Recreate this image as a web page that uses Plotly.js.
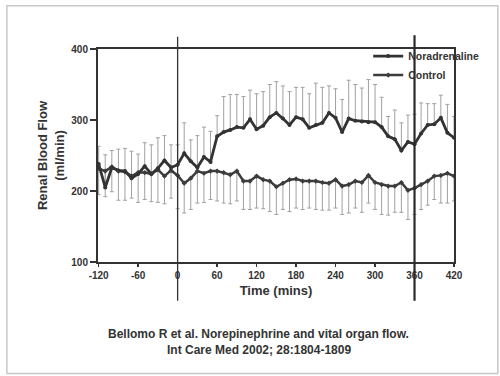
<!DOCTYPE html>
<html>
<head>
<meta charset="utf-8">
<script src="https://cdn.plot.ly/plotly-3.0.1.min.js"></script>
<style>
html,body{margin:0;padding:0;background:#fff;}
#chart{width:500px;height:376px;}
</style>
</head>
<body>
<div id="chart"></div>
<script>
// Time points (minutes)
var timeMins = [-120,-110,-100,-90,-80,-70,-60,-50,-40,-30,-20,-10,0,10,20,30,40,50,
  60,70,80,90,100,110,120,130,140,150,160,170,180,190,200,210,220,230,240,250,260,270,
  280,290,300,310,320,330,340,350,360,370,380,390,400,410,420];

// Noradrenaline mean renal blood flow (ml/min)
var noradrenaline = [238,205,233,229,228,218,224,235,224,232,243,233,237,253,242,233,248,241,
  277,283,286,290,289,301,287,292,304,310,302,293,304,301,289,293,296,310,303,283,302,299,
  298,297,297,290,277,273,257,269,266,281,293,294,303,282,275];
// Noradrenaline upper error-bar ends
var noradrenalineTop = [263,251,257,259,260,256,252,268,265,275,278,265,265,296,272,278,290,284,
  306,333,336,336,333,342,337,340,350,354,348,340,346,346,337,352,346,348,344,329,356,350,
  345,357,350,332,305,314,296,307,308,324,323,323,335,322,305];

// Control mean renal blood flow (ml/min)
var control = [232,228,234,228,227,221,226,226,224,230,221,229,222,211,218,228,225,228,
  228,226,223,228,214,214,221,216,214,206,211,216,217,214,214,214,212,211,216,207,209,214,
  212,222,212,209,207,207,212,201,204,209,214,221,222,225,221];
// Control lower error-bar ends
var controlBottom = [195,192,199,187,187,190,184,188,185,184,182,190,175,169,174,183,184,188,
  186,183,182,186,174,174,176,175,171,167,174,171,176,174,176,174,173,173,176,167,169,176,
  170,183,174,167,166,170,170,160,167,174,180,188,183,183,186];

var xTicks = [-120,-60,0,60,120,180,240,300,360,420];
var yTicks = [100,200,300,400];

var noradErr = noradrenaline.map(function(v,i){return noradrenalineTop[i]-v;});
var ctlErr = control.map(function(v,i){return v-controlBottom[i];});
var zeros = timeMins.map(function(){return 0;});

var FONT = 'Liberation Sans, Arial, sans-serif';
var TXT = '#333333';

var traces = [
  {x: timeMins, y: noradrenaline, mode:'markers', marker:{size:1, color:'rgba(0,0,0,0)'},
   showlegend:false, hoverinfo:'skip',
   error_y:{type:'data', symmetric:false, array:noradErr, arrayminus:zeros,
            color:'#a0a0a0', thickness:1, width:2}},
  {x: timeMins, y: control, mode:'markers', marker:{size:1, color:'rgba(0,0,0,0)'},
   showlegend:false, hoverinfo:'skip',
   error_y:{type:'data', symmetric:false, array:zeros, arrayminus:ctlErr,
            color:'#a0a0a0', thickness:1, width:2}},
  {x: timeMins, y: control, name:'Control', mode:'lines+markers',
   line:{color:'#3c3c3c', width:2.5}, marker:{symbol:'diamond', size:4, color:'#3c3c3c'}},
  {x: timeMins, y: noradrenaline, name:'Noradrenaline', mode:'lines+markers',
   line:{color:'#333333', width:2.8}, marker:{symbol:'circle', size:4, color:'#333333'}}
];

var layout = {
  width:500, height:376,
  margin:{l:98, r:46, t:49, b:114},
  paper_bgcolor:'#ffffff', plot_bgcolor:'#ffffff',
  font:{family:FONT, color:TXT},
  showlegend:true,
  legend:{x:0.759, y:1.035, xanchor:'left', yanchor:'top', bgcolor:'rgba(0,0,0,0)',
          traceorder:'reversed', itemwidth:30, tracegroupgap:0,
          font:{family:FONT, size:10.5, weight:'bold', color:TXT}},
  xaxis:{range:[-121,420], tickvals:xTicks, ticktext:xTicks.map(String),
         showgrid:false, zeroline:false, showline:true, linecolor:'#333', linewidth:2,
         mirror:true, ticks:'outside', ticklen:3, tickwidth:1.5, tickcolor:'#333',
         tickfont:{family:FONT, size:10, weight:'bold', color:TXT},
         title:{text:'Time (mins)', font:{family:FONT, size:13, weight:'bold', color:TXT}, standoff:6}},
  yaxis:{range:[100,400], tickvals:yTicks, ticktext:yTicks.map(String),
         showgrid:false, zeroline:false, showline:true, linecolor:'#333', linewidth:2,
         mirror:true, ticks:'outside', ticklen:6, tickwidth:1.5, tickcolor:'#333',
         tickfont:{family:FONT, size:10, weight:'bold', color:TXT},
         title:{text:'Renal Blood Flow<br>(ml/min)', font:{family:FONT, size:13, weight:'bold', color:TXT}, standoff:4}},
  shapes:[
    {type:'line', xref:'x', yref:'paper', x0:0, x1:0, y0:-0.182, y1:1.058,
     line:{color:'#333', width:1.3}},
    {type:'line', xref:'x', yref:'paper', x0:360, x1:360, y0:-0.182, y1:1.065,
     line:{color:'#2a2a2a', width:2.2}},
    {type:'rect', xref:'paper', yref:'paper', x0:-0.256, x1:1.123, y0:-0.524, y1:1.203,
     line:{color:'#c8c8c8', width:1.5}}
  ],
  annotations:[
    {xref:'paper', yref:'paper', x:0.452, y:-0.336, xanchor:'center', yanchor:'middle', showarrow:false,
     text:'Bellomo R et al. Norepinephrine and vital organ flow.',
     font:{family:FONT, size:12, weight:'bold', color:TXT}},
    {xref:'paper', yref:'paper', x:0.452, y:-0.415, xanchor:'center', yanchor:'middle', showarrow:false,
     text:'Int Care Med 2002; 28:1804-1809',
     font:{family:FONT, size:12, weight:'bold', color:TXT}}
  ]
};

Plotly.newPlot('chart', traces, layout, {displayModeBar:false, staticPlot:true});
</script>
</body>
</html>
